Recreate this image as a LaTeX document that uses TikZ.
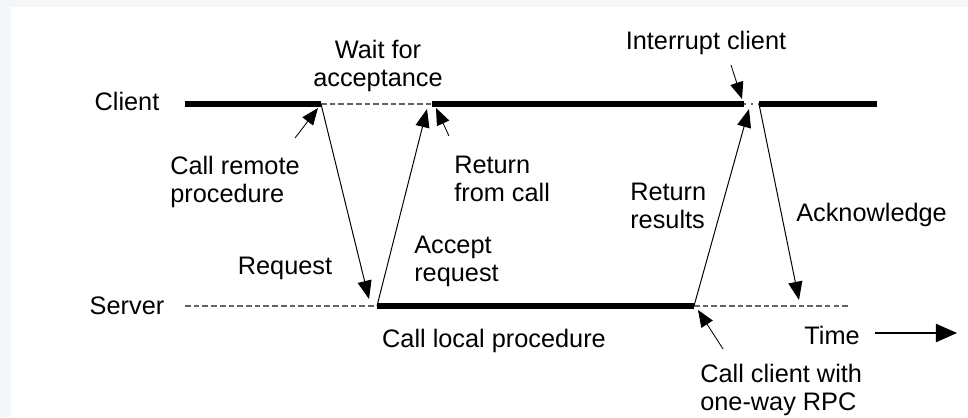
\documentclass[tikz,border=0pt]{standalone}
\usepackage{fontspec}
\setmainfont{Liberation Sans}
\usetikzlibrary{arrows.meta}
\definecolor{frame}{RGB}{243,247,250}
\definecolor{idlegray}{RGB}{100,100,100}
\begin{document}
\begin{tikzpicture}[x=0.025cm,y=-0.025cm,
    busy/.style={line width=3.6pt},
    idle/.style={idlegray,line width=0.9pt,dash pattern=on 4pt off 2.2pt},
    msg/.style={line width=0.7pt,-{Triangle[length=13pt,width=10pt]}},
    pointer/.style={line width=0.6pt,-{Triangle[length=12pt,width=9.5pt]}},
    lbl/.style={inner sep=0pt,font=\fontsize{18}{20}\selectfont,align=left}]
      \fill[frame] (0,0) rectangle (968,417);
      \fill[white] (11,7) rectangle (968,417);
      \useasboundingbox (0,0) rectangle (968,417);

      %%%%%%%%%%%%%%%%%%%%%%%%%%%%%%%%%%%%%%%%%%%%%%%%%%%%%%%%%%%%%%%%%%%%%%%%%%%
      %%%%  Time lines
      \node[lbl] (client) at (127,101) {Client};
      \node[lbl] (server) at (127,306) {Server};

      \coordinate (cstart) at (185,104);
      \coordinate (send)   at (321,104);
      \coordinate (resume) at (432,104);
      \coordinate (intA)   at (744,104);
      \coordinate (intB)   at (759,104);
      \coordinate (cend)   at (877,104);

      \coordinate (sstart) at (185,306);
      \coordinate (accept) at (377,306);
      \coordinate (reply)  at (694,306);
      \coordinate (send2)  at (849,306);

      \draw[busy] (cstart) -- (send);
      \draw[idle] (send) -- (resume);
      \draw[busy] (resume) -- (intA);
      \draw[idlegray,line width=0.9pt,dash pattern=on 1.5pt off 3.5pt] (intA) -- (intB);
      \draw[busy] (intB) -- (cend);

      \draw[idle] (sstart) -- (accept);
      \draw[busy] (accept) -- (reply);
      \draw[idle] (reply) -- (send2);

      %%%%%%%%%%%%%%%%%%%%%%%%%%%%%%%%%%%%%%%%%%%%%%%%%%%%%%%%%%%%%%%%%%%%%%%%%%%
      %%%%  Messages
      \coordinate (reqend) at (369,299);
      \coordinate (accend) at (427,109);
      \coordinate (resend) at (749,109);
      \coordinate (ackend) at (799,300);

      \draw[msg] (send) -- (reqend);
      \draw[msg] (accept) -- (accend);
      \draw[msg] (reply) -- (resend);
      \draw[msg] (intB) -- (ackend);

      %%%%%%%%%%%%%%%%%%%%%%%%%%%%%%%%%%%%%%%%%%%%%%%%%%%%%%%%%%%%%%%%%%%%%%%%%%%
      %%%%  Labels
      \node[lbl,align=center] (wait) at (378,66) {Wait for\\acceptance};
      \node[lbl] (interrupt) at (706,43) {Interrupt client};
      \node[lbl,anchor=west] (callremote) at (170,182) {Call remote\\procedure};
      \node[lbl,anchor=west] (retcall) at (454,179) {Return\\from call};
      \node[lbl,anchor=west] (retres) at (630,206) {Return\\results};
      \node[lbl,anchor=west] (ack) at (796,215) {Acknowledge};
      \node[lbl,anchor=west] (accreq) at (414,261) {Accept\\request};
      \node[lbl] (request) at (285,268) {Request};
      \node[lbl] (calllocal) at (494,341) {Call local procedure};
      \node[lbl] (time) at (832,335) {Time};
      \node[lbl,anchor=west] (callclient) at (700,390) {Call client with\\one-way RPC};

      %%%%%%%%%%%%%%%%%%%%%%%%%%%%%%%%%%%%%%%%%%%%%%%%%%%%%%%%%%%%%%%%%%%%%%%%%%%
      %%%%  Pointers
      \coordinate (p1) at (295,138);  \coordinate (p1e) at (318,108);
      \coordinate (p2) at (449,136);  \coordinate (p2e) at (436,108);
      \coordinate (p3) at (731,65);   \coordinate (p3e) at (742,99);
      \coordinate (p4) at (723,349);  \coordinate (p4e) at (698,310);
      \coordinate (t1) at (875,333);  \coordinate (t2) at (957,333);

      \draw[pointer] (p1) -- (p1e);
      \draw[pointer] (p2) -- (p2e);
      \draw[pointer] (p3) -- (p3e);
      \draw[pointer] (p4) -- (p4e);
      \draw[line width=1pt,-{Triangle[length=15pt,width=13pt]}] (t1) -- (t2);
    \end{tikzpicture}
\end{document}
